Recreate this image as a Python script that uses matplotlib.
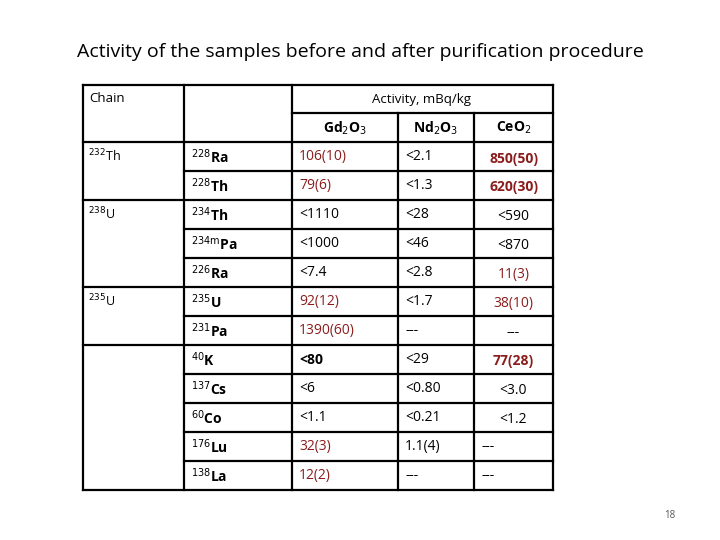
import matplotlib.pyplot as plt
from matplotlib.lines import Line2D

plt.rcParams['font.family'] = ['Open Sans', 'DejaVu Sans']
plt.rcParams['mathtext.fontset'] = 'dejavusans'

RED = '#8b1c1c'

chains = [('$^{232}$Th', 0), ('$^{238}$U', 2), ('$^{235}$U', 5)]
nuclides = ['$^{228}$Ra', '$^{228}$Th', '$^{234}$Th', r'$^{234\mathrm{m}}$Pa', '$^{226}$Ra',
            '$^{235}$U', '$^{231}$Pa', '$^{40}$K', '$^{137}$Cs', '$^{60}$Co',
            '$^{176}$Lu', '$^{138}$La']
gd2o3 = ['106(10)', '79(6)', '<1110', '<1000', '<7.4', '92(12)', '1390(60)',
         '<80', '<6', '<1.1', '32(3)', '12(2)']
nd2o3 = ['<2.1', '<1.3', '<28', '<46', '<2.8', '<1.7', '---',
         '<29', '<0.80', '<0.21', '1.1(4)', '---']
ceo2 = ['850(50)', '620(30)', '<590', '<870', '11(3)', '38(10)', '---',
        '77(28)', '<3.0', '<1.2', '---', '---']
materials = ['Gd$_2$O$_3$', 'Nd$_2$O$_3$', 'CeO$_2$']

# layout in pixels (720x540 canvas)
xs = [83, 184, 292, 398, 474, 553]
ys = [85, 113, 142] + [142 + 29 * (k + 1) for k in range(12)]
group_starts = {0, 2, 5, 7}

fig = plt.figure(figsize=(7.2, 5.4), dpi=100)
ax = fig.add_axes([0, 0, 1, 1])
ax.set_xlim(0, 720)
ax.set_ylim(540, 0)
ax.axis('off')


def line(x0, x1, y0, y1, lw=1.6):
    ax.add_line(Line2D([x0, x1], [y0, y1], color='black', lw=lw))


line(xs[0], xs[-1], ys[0], ys[0])
line(xs[2], xs[-1], ys[1], ys[1])
line(xs[0], xs[-1], ys[2], ys[2])
for i in range(len(nuclides)):
    y = ys[i + 3]
    start = xs[0] if (i + 1) in group_starts or i == len(nuclides) - 1 else xs[1]
    line(start, xs[-1], y, y)
for k, x in enumerate(xs):
    top = ys[1] if k in (3, 4) else ys[0]
    line(x, x, top, ys[-1])

ax.text(360, 52, 'Activity of the samples before and after purification procedure',
        ha='center', va='center', fontsize=14)
ax.text(89, 99, 'Chain', ha='left', va='center', fontsize=9.5)
ax.text(422, 99, 'Activity, mBq/kg', ha='center', va='center', fontsize=9.5)
for j, m in enumerate(materials):
    ax.text((xs[j + 2] + xs[j + 3]) / 2, 128, m, ha='center', va='center',
            fontsize=10, fontweight='bold')

for label, row in chains:
    ax.text(88, ys[row + 2] + 14, label, ha='left', va='center', fontsize=9)

bold_red = {'850(50)', '620(30)', '77(28)'}
for i in range(len(nuclides)):
    yc = (ys[i + 2] + ys[i + 3]) / 2
    ax.text(191, yc, nuclides[i], ha='left', va='center', fontsize=10, fontweight='bold')
    for j, vals in enumerate([gd2o3, nd2o3, ceo2]):
        v = vals[i]
        red = not (v.startswith('<') or v.startswith('-')) and not (j == 1)
        weight = 'bold' if v in bold_red or v == '<80' else 'normal'
        if j == 2 and i < 10:
            ax.text((xs[4] + xs[5]) / 2, yc + 2, v, ha='center', va='center', fontsize=10,
                    color=RED if red else 'black', fontweight=weight)
        else:
            ax.text(xs[j + 2] + 7, yc, v, ha='left', va='center', fontsize=10,
                    color=RED if red else 'black', fontweight=weight)

ax.text(670, 515, '18', ha='center', va='center', fontsize=7, color='#555555')

fig.savefig('out.png', dpi=100)
